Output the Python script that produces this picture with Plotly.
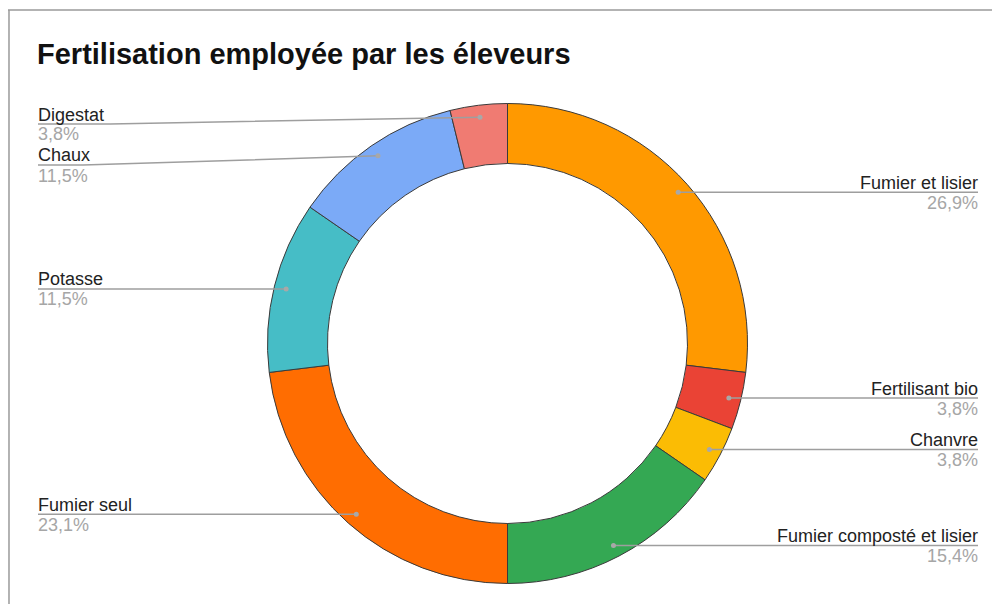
import math
import plotly.graph_objects as go

# ---- data ----
categories = ["Fumier et lisier", "Fertilisant bio", "Chanvre", "Fumier composté et lisier",
              "Fumier seul", "Potasse", "Chaux", "Digestat"]
counts = [7, 1, 1, 4, 6, 3, 3, 1]
colors = ["#FF9900", "#EA4335", "#FBBC04", "#34A853", "#FF6D01", "#46BDC6", "#7BAAF7", "#F07B72"]
title_text = "Fertilisation employée par les éleveurs"

# ---- layout constants (viewport pixels) ----
OFF = 8                      # default page body margin
W, H = 992, 596
CX, CY, R = 507.5, 343.5, 240
HOLE = 0.75
DOT_FRAC = 0.95
LEFT_X, RIGHT_X = 38, 978
TOP_LABEL_Y = 124
MIN_GAP = 41
FONT = "Liberation Sans, Arial, sans-serif"
LABEL_SIZE = 18
CHAR_W = 9.0

def px(x):
    return (x - OFF) / W

def py(y):
    return 1 - (y - OFF) / H

fig = go.Figure(go.Pie(
    labels=categories,
    values=counts,
    sort=False,
    direction="clockwise",
    rotation=0,
    hole=HOLE,
    marker=dict(colors=colors, line=dict(color="#3a3a3a", width=1)),
    textinfo="none",
    hoverinfo="label+percent",
    showlegend=False,
    domain=dict(x=[px(CX - R), px(CX + R)], y=[py(CY + R), py(CY - R)]),
))

total = sum(counts)
items = []
cum = 0
for name, v in zip(categories, counts):
    mid = (cum + v / 2) / total * 2 * math.pi
    cum += v
    dx = math.sin(mid)
    dy = -math.cos(mid)
    r = R * DOT_FRAC
    items.append(dict(name=name, v=v, x0=CX + r * dx, y0=CY + r * dy, right=dx >= 0))

# label placement: avoid overlaps on each side
for side in (True, False):
    side_items = sorted([it for it in items if it["right"] == side], key=lambda it: it["y0"])
    prev = None
    for it in side_items:
        ly = max(it["y0"], TOP_LABEL_Y)
        if prev is not None:
            ly = max(ly, prev + MIN_GAP)
        it["ly"] = ly
        prev = ly

shapes = []
annotations = []
for it in items:
    name, v, x0, y0, right, ly = it["name"], it["v"], it["x0"], it["y0"], it["right"], it["ly"]
    pct = f"{v / total * 100:.1f}%".replace(".", ",")
    lx = RIGHT_X if right else LEFT_X
    knee = lx - len(name) * CHAR_W if right else lx + len(name) * CHAR_W
    tx = lx + 1 if right else lx - 1
    path = f"M {px(lx)},{py(ly)} L {px(knee)},{py(ly)} L {px(x0)},{py(y0)}"
    shapes.append(dict(type="path", xref="paper", yref="paper", path=path,
                       line=dict(color="#9e9e9e", width=1.5), layer="above"))
    shapes.append(dict(type="circle", xref="paper", yref="paper",
                       x0=px(x0 - 2.5), y0=py(y0 - 2.5), x1=px(x0 + 2.5), y1=py(y0 + 2.5),
                       fillcolor="#a8a8a8", line=dict(width=0), layer="above"))
    anchor = "right" if right else "left"
    annotations.append(dict(xref="paper", yref="paper", x=px(tx), y=py(ly - 9.5),
                            text=name, showarrow=False, xanchor=anchor, yanchor="middle",
                            borderpad=0,
                            font=dict(family=FONT, size=LABEL_SIZE, color="#222222")))
    annotations.append(dict(xref="paper", yref="paper", x=px(tx), y=py(ly + 10.5),
                            text=pct, showarrow=False, xanchor=anchor, yanchor="middle",
                            borderpad=0,
                            font=dict(family=FONT, size=LABEL_SIZE, color="#a6a6a6")))

# frame border
shapes.append(dict(type="line", xref="paper", yref="paper", x0=0, y0=py(10), x1=1, y1=py(10),
                   line=dict(color="#9a9a9a", width=1.5)))
shapes.append(dict(type="line", xref="paper", yref="paper", x0=0.001, y0=py(10), x1=0.001, y1=0,
                   line=dict(color="#9a9a9a", width=1.5)))

annotations.append(dict(xref="paper", yref="paper", x=px(35), y=py(54),
                        text=f"<b>{title_text}</b>", showarrow=False,
                        xanchor="left", yanchor="middle",
                        font=dict(family=FONT, size=29, color="#111111")))

fig.update_layout(
    width=W, height=H,
    margin=dict(l=0, r=0, t=0, b=0),
    paper_bgcolor="white",
    plot_bgcolor="white",
    shapes=shapes,
    annotations=annotations,
)

fig.write_html("out.html")
